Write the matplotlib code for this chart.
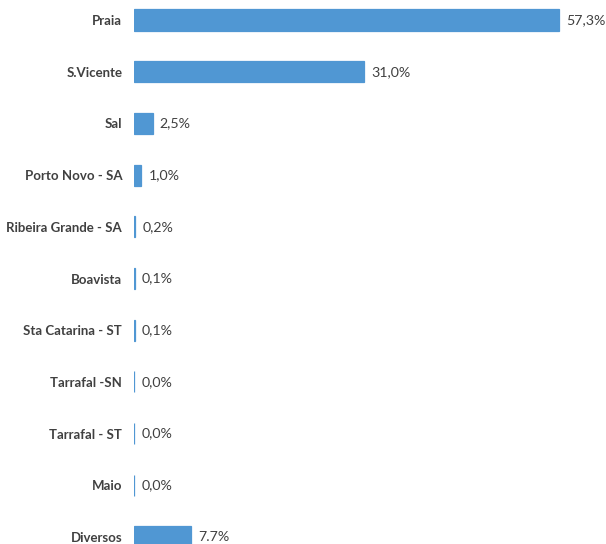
import numpy as np
import matplotlib.pyplot as plt

# share of each municipality
categories = ['Praia', 'S.Vicente', 'Sal', 'Porto Novo - SA', 'Ribeira Grande - SA',
              'Boavista', 'Sta Catarina - ST', 'Tarrafal -SN', 'Tarrafal - ST', 'Maio', 'Diversos']
values = [57.3, 31.0, 2.5, 1.0, 0.2, 0.1, 0.1, 0.04, 0.03, 0.02, 7.7]
labels = ['57,3%', '31,0%', '2,5%', '1,0%', '0,2%', '0,1%', '0,1%', '0,0%', '0,0%', '0,0%', '7.7%']

plt.rcParams['font.family'] = ['Lato', 'DejaVu Sans']

fig = plt.figure(figsize=(6.06, 5.44), dpi=100)
ax = fig.add_axes([134 / 606, -18.85 / 544, 445 / 606, 568.7 / 544])

y = np.arange(len(categories))
bar_color = '#5097D3'
ax.barh(y, values, height=0.41, color=bar_color, edgecolor=bar_color, linewidth=0.9)

for yi, v, lab in zip(y, values, labels):
    ax.text(v + 0.95, yi, lab, va='center', ha='left', fontsize=10.2, color='#404040')

ax.set_yticks(y)
ax.set_yticklabels(categories, fontsize=9.5, fontweight='bold', color='#404040')
ax.tick_params(axis='y', length=0, pad=8.5)
ax.set_xticks([])
ax.set_xlim(0, 60)
ax.set_ylim(10.5, -0.5)
for s in ax.spines.values():
    s.set_visible(False)

fig.savefig('out.png', dpi=100)
